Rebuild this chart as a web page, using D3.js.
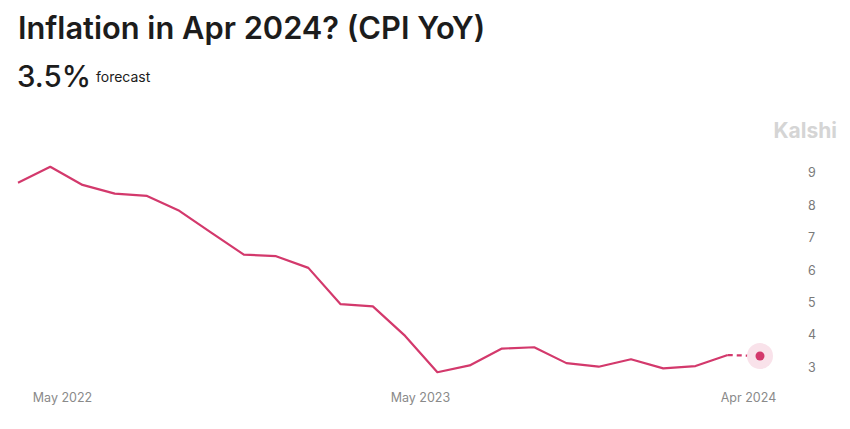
<!DOCTYPE html>
<html>
<head>
<meta charset="utf-8">
<script src="https://cdn.jsdelivr.net/npm/d3@7"></script>
<style>
  html, body { margin: 0; padding: 0; background: #ffffff; }
  svg { display: block; font-family: Inter, "Noto Sans", sans-serif; }
</style>
</head>
<body>
<svg id="chart" width="850" height="429"></svg>
<script>
// ---- data ----
const months = [
  "May 2022","Jun 2022","Jul 2022","Aug 2022","Sep 2022","Oct 2022","Nov 2022","Dec 2022",
  "Jan 2023","Feb 2023","Mar 2023","Apr 2023","May 2023","Jun 2023","Jul 2023","Aug 2023",
  "Sep 2023","Oct 2023","Nov 2023","Dec 2023","Jan 2024","Feb 2024","Mar 2024","Apr 2024"
];
const cpiValues = [8.68, 9.17, 8.61, 8.34, 8.27, 7.81, 7.13, 6.46,
                   6.41, 6.05, 4.93, 4.86, 3.95, 2.83, 3.04, 3.56,
                   3.60, 3.11, 3.00, 3.23, 2.95, 3.02, 3.36];
const forecastMonth = "Apr 2024";
const forecastValue = 3.33;
const xTickLabels = ["May 2022", "May 2023", "Apr 2024"];
const yTickValues = [3, 4, 5, 6, 7, 8, 9];
const titleText = "Inflation in Apr 2024? (CPI YoY)";
const headlineValue = "3.5%";
const headlineNote = "forecast";
const brandText = "Kalshi";

// ---- drawing ----
const svg = d3.select("#chart");
const lineColor = "#d3396c";

svg.append("text")
  .attr("x", 18).attr("y", 38.5)
  .attr("font-size", 30.8).attr("font-weight", 600)
  .attr("fill", "#1c1c1c")
  .text(titleText);

svg.append("text")
  .attr("x", 17).attr("y", 87)
  .attr("font-size", 29.5).attr("font-weight", 500)
  .attr("fill", "#1c1c1c")
  .text(headlineValue);

svg.append("text")
  .attr("x", 96).attr("y", 82)
  .attr("font-size", 14).attr("font-weight", 400)
  .attr("fill", "#1c1c1c")
  .text(headlineNote);

svg.append("text")
  .attr("x", 837).attr("y", 137.5)
  .attr("text-anchor", "end")
  .attr("font-size", 21).attr("font-weight", 700)
  .attr("fill", "#d5d5d5")
  .text(brandText);

const x = d3.scalePoint().domain(months).range([18, 760]);
const xAxisScale = d3.scalePoint().domain(months).range([62, 748]);
const y = d3.scaleLinear().domain([3, 9]).range([366.7, 172.3]);

// y axis (right)
const yAxis = d3.axisRight(y).tickValues(yTickValues).tickSize(0).tickPadding(0)
  .tickFormat(d3.format("d"));
const gy = svg.append("g").attr("transform", "translate(808,0.5)").call(yAxis);
gy.select(".domain").remove();
gy.selectAll("text")
  .attr("font-family", "Inter, 'Noto Sans', sans-serif")
  .attr("font-size", 12.5).attr("fill", "#7a7a7a");

// x axis
const xAxis = d3.axisBottom(xAxisScale).tickValues(xTickLabels).tickSize(0).tickPadding(0);
const gx = svg.append("g").attr("transform", "translate(0,393)").call(xAxis);
gx.select(".domain").remove();
gx.selectAll("text")
  .attr("font-family", "Inter, 'Noto Sans', sans-serif")
  .attr("font-size", 12.5).attr("fill", "#8a8a8a");

// line
const line = d3.line().x((d, i) => x(months[i])).y(d => y(d));
svg.append("path")
  .datum(cpiValues)
  .attr("fill", "none")
  .attr("stroke", lineColor)
  .attr("stroke-width", 2.2)
  .attr("stroke-linejoin", "round")
  .attr("d", line);

// forecast dashed segment
const lastIdx = cpiValues.length - 1;
const fc = [[months[lastIdx], cpiValues[lastIdx]], [forecastMonth, forecastValue]];
svg.append("path")
  .datum(fc)
  .attr("fill", "none")
  .attr("stroke", lineColor)
  .attr("stroke-width", 2.2)
  .attr("stroke-dasharray", "5,4")
  .attr("d", d3.line().x(d => x(d[0])).y(d => y(d[1])));

svg.append("circle")
  .attr("cx", x(forecastMonth)).attr("cy", y(forecastValue))
  .attr("r", 13).attr("fill", "#f9e2ea");
svg.append("circle")
  .attr("cx", x(forecastMonth)).attr("cy", y(forecastValue))
  .attr("r", 4.5).attr("fill", lineColor);
</script>
</body>
</html>
